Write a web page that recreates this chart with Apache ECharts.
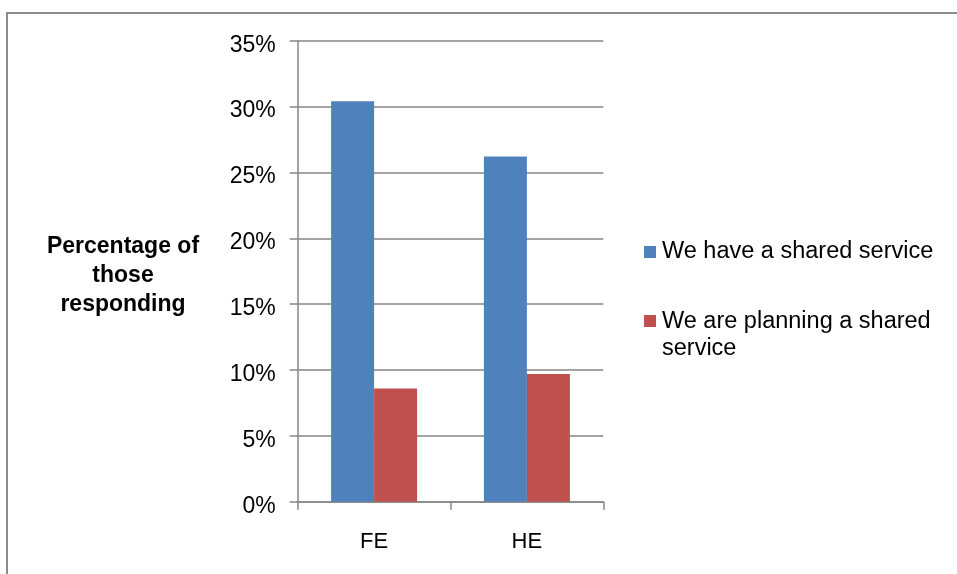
<!DOCTYPE html>
<html>
<head>
<meta charset="utf-8">
<script src="https://cdn.jsdelivr.net/npm/echarts@6/dist/echarts.min.js"></script>
<style>
  html, body { margin: 0; padding: 0; background: #fff; }
  #chart { width: 957px; height: 574px; }
</style>
</head>
<body>
<div id="chart"></div>
<script>
// Survey results: share of respondents with / planning a shared service
const categories = ['FE', 'HE'];
const seriesNames = ['We have a shared service', 'We are planning a shared service'];
const haveShared = [30.4, 26.2];
const planningShared = [8.6, 9.7];
const yTicks = [0, 5, 10, 15, 20, 25, 30, 35];

const axisGray = '#868686';
const font = '"Liberation Sans", Arial, sans-serif';

const chart = echarts.init(document.getElementById('chart'), null, { renderer: 'canvas' });

chart.setOption({
  backgroundColor: '#ffffff',
  animation: false,
  title: {
    text: 'Percentage of\nthose\nresponding',
    left: 123,
    top: 232,
    textAlign: 'center',
    padding: 0,
    textStyle: {
      fontFamily: font,
      fontWeight: 'bold',
      fontSize: 23,
      lineHeight: 29,
      color: '#000'
    }
  },
  grid: {
    left: 297.7,
    right: 353.7,
    top: 40.7,
    bottom: 72.3,
    containLabel: false
  },
  legend: [
    {
      data: [seriesNames[0]],
      orient: 'vertical',
      left: 644,
      top: 238.5,
      padding: 0,
      itemWidth: 12,
      itemHeight: 12,
      itemGap: 5,
      icon: 'rect',
      selectedMode: false,
      textStyle: { fontFamily: font, fontSize: 23.5, lineHeight: 27, color: '#000', padding: [0, 0, 0, 1] }
    },
    {
      data: [seriesNames[1]],
      orient: 'vertical',
      left: 644,
      top: 308,
      padding: 0,
      itemWidth: 12,
      itemHeight: 40,
      // square sits at the top of a taller icon box so it lines up with the first text line
      icon: 'path://M0,0 L12,0 L12,12 L0,12 Z M0,40 L0,40',
      selectedMode: false,
      formatter: function () { return 'We are planning a shared\nservice'; },
      textStyle: { fontFamily: font, fontSize: 23.5, lineHeight: 27, color: '#000', padding: [0, 0, 0, 1] }
    }
  ],
  xAxis: {
    type: 'category',
    data: categories,
    boundaryGap: true,
    axisLine: { show: true, lineStyle: { color: axisGray, width: 1.5 } },
    axisTick: { show: true, length: 8, lineStyle: { color: axisGray, width: 1.5 } },
    axisLabel: { fontFamily: font, fontSize: 22, color: '#000', margin: 29 },
    splitLine: { show: false }
  },
  yAxis: {
    type: 'value',
    min: yTicks[0],
    max: yTicks[yTicks.length - 1],
    interval: yTicks[1] - yTicks[0],
    axisLine: { show: true, lineStyle: { color: axisGray, width: 1.5 } },
    axisTick: { show: true, length: 8, lineStyle: { color: axisGray, width: 1.5 } },
    axisLabel: {
      fontFamily: font,
      fontSize: 23,
      color: '#000',
      margin: 22,
      // labels sit slightly below their gridlines
      verticalAlign: 'top',
      lineHeight: 9,
      formatter: function (v) { return v + '%'; }
    },
    splitLine: { show: true, lineStyle: { color: axisGray, width: 1.5 } }
  },
  series: [
    {
      name: seriesNames[0],
      type: 'bar',
      data: haveShared,
      barWidth: 43,
      barGap: '0%',
      itemStyle: { color: '#4F81BD' }
    },
    {
      name: seriesNames[1],
      type: 'bar',
      data: planningShared,
      barWidth: 43,
      barGap: '0%',
      itemStyle: { color: '#C0504D' }
    }
  ],
  graphic: [
    {
      type: 'rect',
      shape: { x: 7, y: 13, width: 980, height: 620 },
      style: { fill: 'none', stroke: '#8c8c8c', lineWidth: 2 },
      silent: true,
      z: 100
    }
  ]
});
</script>
</body>
</html>
